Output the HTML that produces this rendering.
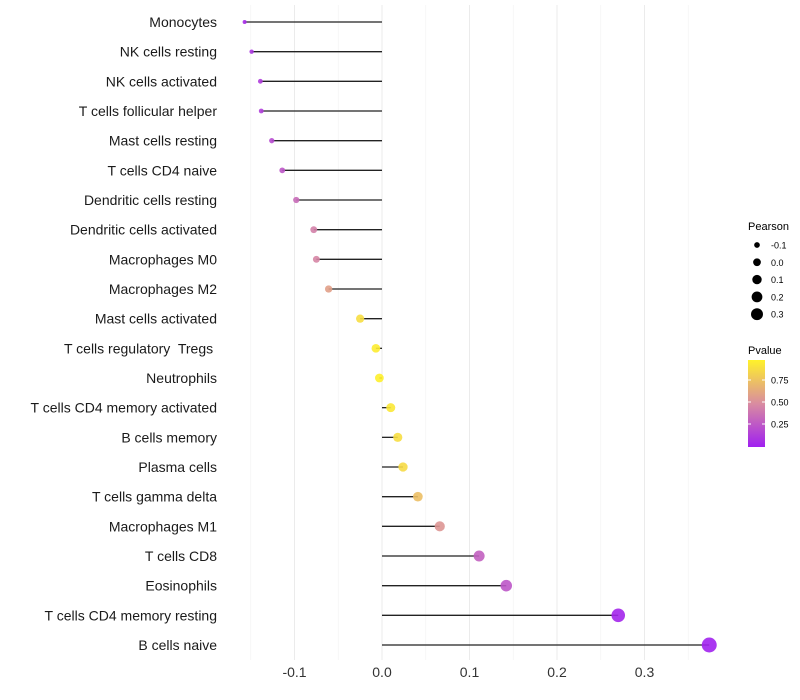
<!DOCTYPE html>
<html><head><meta charset="utf-8"><style>
body{margin:0;background:#fff;font-family:"Liberation Sans",sans-serif;}
svg{display:block}
text{white-space:pre}
</style></head><body>
<svg id="chart" width="800" height="700">
<defs><linearGradient id="pg" x1="0" y1="1" x2="0" y2="0">
<stop offset="0" stop-color="#a020f0"/><stop offset="0.5" stop-color="#d98ca0"/><stop offset="1" stop-color="#fff22a"/></linearGradient></defs>
<g id="grid"></g><g id="marks"></g><g id="labels"></g>
<g font-size="10" fill="#000">
<text x="748" y="230" font-size="11">Pearson</text>
<g id="sizeleg"></g>
</g>
<g>
<text x="748" y="354" font-size="11">Pvalue</text>
<rect x="748" y="360" width="17" height="87" fill="url(#pg)"/>
<g id="colleg"></g>
</g>
</svg>
<script>
const categories=["Monocytes","NK cells resting","NK cells activated","T cells follicular helper","Mast cells resting","T cells CD4 naive","Dendritic cells resting","Dendritic cells activated","Macrophages M0","Macrophages M2","Mast cells activated","T cells regulatory  Tregs ","Neutrophils","T cells CD4 memory activated","B cells memory","Plasma cells","T cells gamma delta","Macrophages M1","T cells CD8","Eosinophils","T cells CD4 memory resting","B cells naive"];
const pearson=[-0.157,-0.149,-0.139,-0.138,-0.126,-0.114,-0.098,-0.078,-0.075,-0.061,-0.025,-0.007,-0.003,0.010,0.018,0.024,0.041,0.066,0.111,0.142,0.270,0.374];
const pvalue=[0.05,0.1,0.13,0.14,0.2,0.25,0.35,0.45,0.47,0.6,0.9,0.97,0.99,0.95,0.9,0.88,0.75,0.55,0.3,0.25,0.03,0.01];
const xTicks=[-0.1,0.0,0.1,0.2,0.3];
const xTickLabels=["-0.1","0.0","0.1","0.2","0.3"];
const sizeLegend=[-0.1,0.0,0.1,0.2,0.3];
const colorTicks=[0.25,0.5,0.75];
const NS="http://www.w3.org/2000/svg";
const x=v=>382+v*875;
const y=i=>22+i*(623/21);
const r=v=>Math.sqrt(Math.max(3,19.4+98*v));
const rl=v=>Math.sqrt(13.6+63*v);
const cy=p=>446-p*88;
function col(p){const a=[160,32,240],b=[217,140,160],c=[255,242,42];let s,e,t;if(p<0.5){s=a;e=b;t=p/0.5}else{s=b;e=c;t=(p-0.5)/0.5}return`rgb(${s.map((q,k)=>Math.round(q+(e[k]-q)*t)).join(",")})`;}
function mk(tag,at,par){const el=document.createElementNS(NS,tag);for(const k in at)el.setAttribute(k,at[k]);par.appendChild(el);return el;}
const grid=document.getElementById('grid'),marks=document.getElementById('marks'),labels=document.getElementById('labels');
for(let k=-3;k<=7;k++){const v=k*0.05;const g=mk('line',{x1:x(v),x2:x(v),y1:5,y2:660,stroke:k%2===0?'#ebebeb':'#f3f3f3','stroke-width':k%2===0?1:0.7},grid);

}
xTicks.forEach((v,i)=>{const t=mk('text',{x:x(v),y:677,'text-anchor':'middle','font-size':14,fill:'#333'},labels);t.textContent=xTickLabels[i];

});
categories.forEach((c,i)=>{
const t=mk('text',{x:217,y:y(i)+5,'text-anchor':'end','font-size':14,fill:'#1a1a1a'},labels);t.textContent=c;


const l=mk('line',{x1:x(0),x2:x(pearson[i]),y1:y(i),y2:y(i),stroke:'#222','stroke-width':1.3},marks);


const d=mk('circle',{cx:x(pearson[i]),cy:y(i),r:r(pearson[i]),fill:col(pvalue[i]),'fill-opacity':0.9},marks);


});
const sl=document.getElementById('sizeleg');
sizeLegend.forEach((v,i)=>{const yy=245+i*17.3;const c=mk('circle',{cx:757,cy:yy,r:rl(v)*1.05,fill:'#000'},sl);


const t=mk('text',{x:771,y:yy+3.5,'font-size':9},sl);t.textContent=v.toFixed(1);

});
const cl=document.getElementById('colleg');
colorTicks.forEach(p=>{const yy=cy(p);mk('line',{x1:748,x2:751,y1:yy,y2:yy,stroke:'#fff'},cl);mk('line',{x1:762,x2:765,y1:yy,y2:yy,stroke:'#fff'},cl);
const t=mk('text',{x:771,y:yy+3.5,'font-size':9},cl);t.textContent=p.toFixed(2);

});
</script>
</body></html>
